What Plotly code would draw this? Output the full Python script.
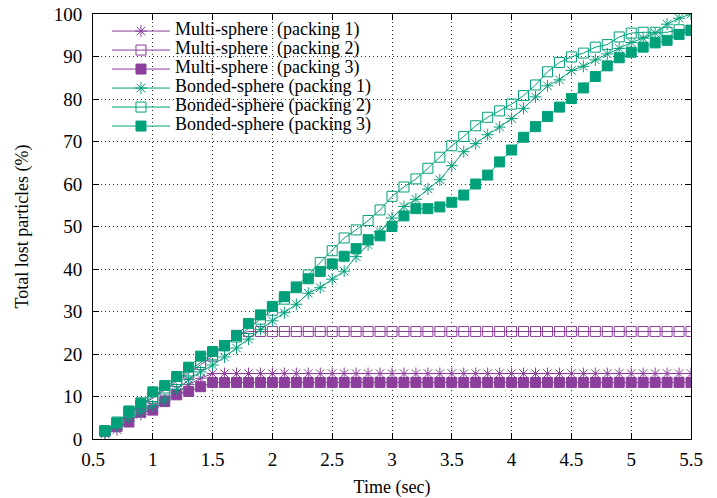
import plotly.graph_objects as go

time_sec = [0.6, 0.7, 0.8, 0.9, 1.0, 1.1, 1.2, 1.3, 1.4, 1.5,
            1.6, 1.7, 1.8, 1.9, 2.0, 2.1, 2.2, 2.3, 2.4, 2.5,
            2.6, 2.7, 2.8, 2.9, 3.0, 3.1, 3.2, 3.3, 3.4, 3.5,
            3.6, 3.7, 3.8, 3.9, 4.0, 4.1, 4.2, 4.3, 4.4, 4.5,
            4.6, 4.7, 4.8, 4.9, 5.0, 5.1, 5.2, 5.3, 5.4, 5.5]

multi_p1 = [1.2, 2.2, 4.2, 5.8, 7.5, 9.0, 11.0, 12.8, 14.3, 15.4,
            15.4, 15.4, 15.4, 15.4, 15.4, 15.4, 15.4, 15.4, 15.4, 15.4,
            15.4, 15.4, 15.4, 15.4, 15.4, 15.4, 15.4, 15.4, 15.4, 15.4,
            15.4, 15.4, 15.4, 15.4, 15.4, 15.4, 15.4, 15.4, 15.4, 15.4,
            15.4, 15.4, 15.4, 15.4, 15.4, 15.4, 15.4, 15.4, 15.4, 15.4]

multi_p2 = [2.0, 3.6, 5.8, 8.0, 9.6, 11.5, 13.5, 15.5, 17.5, 19.5,
            22.0, 24.4, 25.3, 25.3, 25.3, 25.3, 25.3, 25.3, 25.3, 25.3,
            25.3, 25.3, 25.3, 25.3, 25.3, 25.3, 25.3, 25.3, 25.3, 25.3,
            25.3, 25.3, 25.3, 25.3, 25.3, 25.3, 25.3, 25.3, 25.3, 25.3,
            25.3, 25.3, 25.3, 25.3, 25.3, 25.3, 25.3, 25.3, 25.3, 25.3]

multi_p3 = [1.8, 2.9, 4.0, 6.3, 6.8, 8.8, 10.4, 11.2, 12.3, 13.3,
            13.3, 13.3, 13.3, 13.3, 13.3, 13.3, 13.3, 13.3, 13.3, 13.3,
            13.3, 13.3, 13.3, 13.3, 13.3, 13.3, 13.3, 13.3, 13.3, 13.3,
            13.3, 13.3, 13.3, 13.3, 13.3, 13.3, 13.3, 13.3, 13.3, 13.3,
            13.3, 13.3, 13.3, 13.3, 13.3, 13.3, 13.3, 13.3, 13.3, 13.3]

bonded_p1 = [1.5, 3.0, 5.0, 6.5, 7.8, 9.2, 11.7, 14.0, 15.8, 17.4,
             19.3, 21.4, 23.5, 25.8, 27.8, 29.7, 31.7, 34.3, 35.6, 37.6,
             39.5, 42.9, 45.7, 48.8, 52.0, 54.7, 56.4, 58.8, 61.0, 64.3,
             67.6, 69.5, 71.6, 73.4, 75.4, 77.8, 80.5, 83.1, 84.5, 86.7,
             87.7, 89.2, 90.6, 91.9, 93.3, 94.3, 95.5, 97.6, 99.0, 100.0]

bonded_p2 = [2.0, 4.0, 6.3, 8.0, 10.0, 12.0, 14.0, 16.0, 18.0, 19.8,
             22.0, 24.0, 26.0, 28.2, 30.3, 32.9, 35.8, 38.6, 41.5, 44.3,
             47.3, 49.2, 51.4, 53.9, 57.1, 59.3, 61.2, 63.7, 66.3, 69.0,
             71.2, 73.7, 75.7, 77.2, 78.8, 80.8, 83.3, 86.4, 88.6, 89.9,
             90.8, 92.2, 92.8, 94.6, 95.5, 95.7, 95.7, 95.7, 96.3, 96.2]

bonded_p3 = [1.9, 3.8, 6.6, 8.5, 11.1, 12.6, 14.7, 16.9, 19.5, 20.6,
             21.9, 24.3, 27.2, 29.2, 31.2, 33.5, 35.6, 37.7, 39.4, 41.2,
             43.0, 44.8, 46.9, 47.8, 50.0, 52.5, 54.2, 54.2, 54.6, 55.7,
             57.4, 60.0, 62.1, 65.2, 68.0, 71.0, 73.5, 75.9, 78.1, 80.1,
             82.6, 85.3, 87.8, 89.7, 91.0, 92.2, 93.2, 93.8, 95.2, 96.1]

series_names = ["Multi-sphere  (packing 1)", "Multi-sphere  (packing 2)", "Multi-sphere  (packing 3)",
                "Bonded-sphere (packing 1)", "Bonded-sphere (packing 2)", "Bonded-sphere (packing 3)"]

PURPLE = "#8b3f9b"
GREEN = "#00a07a"

series = [multi_p1, multi_p2, multi_p3, bonded_p1, bonded_p2, bonded_p3]
colors = [PURPLE, PURPLE, PURPLE, GREEN, GREEN, GREEN]
symbols = ["asterisk", "square-open", "square", "asterisk", "square-open", "square"]
sizes = [10, 10, 10, 10, 10, 10]

fig = go.Figure()
for name, ys, c, sym, sz in zip(series_names, series, colors, symbols, sizes):
    label = '<span style="font-size:18px">' + name.replace("  ", "&nbsp; ") + "</span>"
    fig.add_trace(go.Scatter(
        x=time_sec, y=ys, name=label, mode="lines+markers",
        line=dict(color=c, width=1),
        marker=dict(symbol=sym, size=sz, color=c, line=dict(color=c, width=1)),
    ))

FONT = "Liberation Serif"
axis_common = dict(
    showline=True, linecolor="black", linewidth=1, mirror="allticks",
    ticks="inside", ticklen=6, tickcolor="black", tickwidth=1,
    showgrid=True, gridcolor="#333333", griddash="1px,3px", gridwidth=1,
    zeroline=False, automargin=False,
    tickfont=dict(family=FONT, size=19, color="black"),
)

fig.update_layout(
    width=717, height=498,
    margin=dict(l=93, r=26, t=14, b=59),
    paper_bgcolor="white", plot_bgcolor="white",
    font=dict(family=FONT, size=18, color="black"),
    showlegend=True,
    legend=dict(x=0.0234, y=0.994, xanchor="left", yanchor="top",
                bgcolor="rgba(0,0,0,0)", font=dict(family=FONT, size=11, color="black"),
                itemwidth=58, tracegroupgap=0),
    xaxis=dict(range=[0.5, 5.5], dtick=0.5, tick0=0.5, ticklabelstandoff=3,
               title=dict(text="Time (sec)", font=dict(family=FONT, size=18), standoff=12),
               **axis_common),
    yaxis=dict(range=[0, 100], dtick=10, ticklabelstandoff=6,
               title=dict(text="Total lost particles (%)", font=dict(family=FONT, size=18), standoff=20),
               **axis_common),
)

fig.write_html("out.html")
